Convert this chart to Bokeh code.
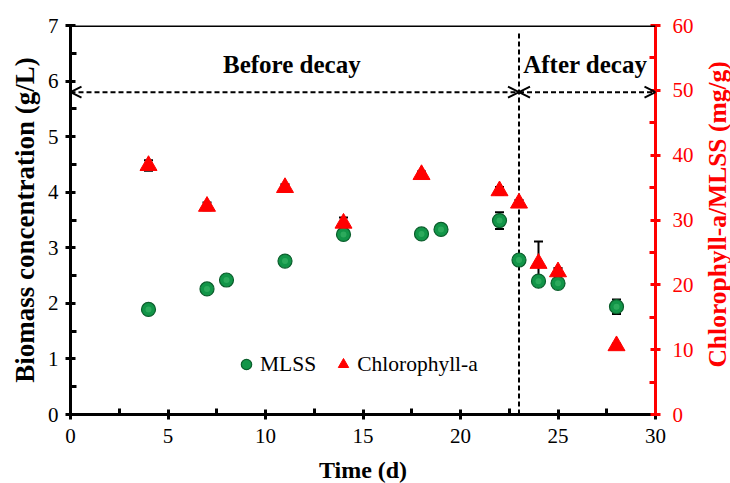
import math
from bokeh.plotting import figure
from bokeh.layouts import row, column
from bokeh.models import (LinearAxis, Range1d, Arrow, OpenHead, Span, Legend, LegendItem,
                          Whisker, TeeHead, ColumnDataSource, Label, FixedTicker)
from bokeh.embed import file_html
from bokeh.resources import INLINE

# ---- data ----
mlss_day = [4, 7, 8, 11, 14, 18, 19, 22, 23, 24, 25, 28]
mlss_val = [1.89, 2.26, 2.42, 2.76, 3.24, 3.25, 3.33, 3.49, 2.78, 2.40, 2.36, 1.94]
mlss_err = [0.03, 0.03, 0.05, 0.03, 0.05, 0.06, 0.03, 0.15, 0.06, 0.07, 0.04, 0.13]

chl_day = [4, 7, 11, 14, 18, 22, 23, 24, 25, 28]
chl_val = [38.4, 32.1, 35.0, 29.5, 37.0, 34.5, 32.6, 23.3, 22.0, 10.6]
chl_err = [0.8, 0.6, 0.5, 0.9, 0.5, 0.6, 0.5, 3.4, 0.6, 0.3]

x_ticks = [0, 5, 10, 15, 20, 25, 30]
y_ticks = [0, 1, 2, 3, 4, 5, 6, 7]
y2_ticks = [0, 10, 20, 30, 40, 50, 60]

X_TITLE = "Time (d)"
Y_TITLE = "Biomass concentration (g/L)"
Y2_TITLE = "Chlorophyll-a/MLSS (mg/g)"

DECAY_DAY = 23
ARROW_Y = 5.8
LINE_TOP = 6.87
PHASES = ["Before decay", "After decay"]
PHASE_X = [11.35, 26.4]
PHASE_Y = 6.3

FONT = "Liberation Serif"
RED = "#ff0000"

# layout sizes (pixels)
MAIN_W, MAIN_H = 700, 452
SIDE_W = 30
BOTTOM_H = 31

p = figure(width=MAIN_W, height=MAIN_H, output_backend="svg", toolbar_location=None,
           x_range=Range1d(0, 30), y_range=Range1d(0, 7),
           min_border_left=70, min_border_right=45, min_border_top=25, min_border_bottom=38)
p.extra_y_ranges = {"chl": Range1d(0, 60)}
p.grid.visible = False
p.outline_line_color = None
p.background_fill_color = "white"

def style_axis(ax, color="black", label_size="25px"):
    ax.axis_line_width = 3
    ax.axis_line_color = color
    ax.major_tick_line_color = color
    ax.minor_tick_line_color = color
    ax.major_tick_line_width = 3
    ax.minor_tick_line_width = 3
    ax.major_tick_in = 5
    ax.major_tick_out = 5
    ax.minor_tick_in = 6
    ax.minor_tick_out = 0
    ax.major_label_text_font = FONT
    ax.major_label_text_font_size = "21px"
    ax.major_label_text_color = color
    ax.axis_label_text_font = FONT
    ax.axis_label_text_font_size = label_size
    ax.axis_label_text_font_style = "bold"
    ax.axis_label_text_color = color

xa = p.xaxis[0]
xa.ticker = FixedTicker(ticks=x_ticks, minor_ticks=[2.5 + 5 * i for i in range(6)])
style_axis(xa)
xa.major_label_standoff = 9

ya = p.yaxis[0]
ya.ticker = FixedTicker(ticks=y_ticks, minor_ticks=[0.5 + i for i in range(7)])
style_axis(ya, label_size="27px")
ya.axis_label = Y_TITLE
ya.major_label_standoff = 7
ya.axis_label_standoff = 5

ya2 = LinearAxis(y_range_name="chl")
ya2.ticker = FixedTicker(ticks=y2_ticks, minor_ticks=[5 + 10 * i for i in range(6)])
style_axis(ya2, RED)
ya2.major_label_standoff = 12
p.add_layout(ya2, "right")

# top border
p.add_layout(Span(location=7, dimension="width", line_color="black", line_width=3))

# decay line and arrows
p.segment(x0=[DECAY_DAY], y0=[0], x1=[DECAY_DAY], y1=[LINE_TOP],
          line_color="black", line_width=2, line_dash="5 3")
for xs, xe in [(0, DECAY_DAY), (DECAY_DAY, 30)]:
    p.add_layout(Arrow(x_start=xs, y_start=ARROW_Y, x_end=xe, y_end=ARROW_Y,
                       line_color="black", line_width=2, line_dash="5 3",
                       start=OpenHead(size=11, line_width=2, line_color="black"),
                       end=OpenHead(size=11, line_width=2, line_color="black")))
for t, x in zip(PHASES, PHASE_X):
    p.add_layout(Label(x=x, y=PHASE_Y, text=t, text_font=FONT, text_font_size="25px",
                       text_font_style="bold", text_color="black",
                       text_align="center", text_baseline="middle"))

# data
ms = ColumnDataSource(dict(x=mlss_day, y=mlss_val, lo=[v - e for v, e in zip(mlss_val, mlss_err)],
                           hi=[v + e for v, e in zip(mlss_val, mlss_err)]))
cs = ColumnDataSource(dict(x=chl_day, y=chl_val, lo=[v - e for v, e in zip(chl_val, chl_err)],
                           hi=[v + e for v, e in zip(chl_val, chl_err)]))

p.add_layout(Whisker(source=ms, base="x", upper="hi", lower="lo", line_color="black", line_width=2,
                     upper_head=TeeHead(size=9, line_width=2), lower_head=TeeHead(size=9, line_width=2)))
p.add_layout(Whisker(source=cs, base="x", upper="hi", lower="lo", y_range_name="chl",
                     line_color="black", line_width=2,
                     upper_head=TeeHead(size=9, line_width=2), lower_head=TeeHead(size=9, line_width=2)))

g1 = p.scatter("x", "y", source=ms, marker="circle", size=14, fill_color="#129548",
               line_color="#0b5e2c", line_width=1.2)
p.scatter("x", "y", source=ms, marker="circle", size=6, fill_color="#37b465",
          line_color=None, fill_alpha=0.7)
g2 = p.scatter("x", "y", source=cs, marker="triangle", size=17, fill_color=RED,
               line_color=RED, y_range_name="chl")

leg = Legend(items=[LegendItem(label="MLSS", renderers=[g1]),
                    LegendItem(label="Chlorophyll-a", renderers=[g2])],
             orientation="horizontal", location=(153, 27),
             label_text_font=FONT, label_text_font_size="21.5px", label_text_color="black",
             background_fill_alpha=0, border_line_alpha=0, spacing=14,
             glyph_width=26, glyph_height=26, label_standoff=1)
p.add_layout(leg, "center")

def strip(w, h):
    f = figure(width=w, height=h, output_backend="svg", toolbar_location=None, title=None,
               x_range=Range1d(0, w), y_range=Range1d(0, h),
               x_axis_location=None, y_axis_location=None,
               min_border_left=0, min_border_right=0, min_border_top=0, min_border_bottom=0)
    f.grid.visible = False
    f.outline_line_color = None
    return f

# right-hand title (reads bottom to top), drawn in a narrow strip
side = strip(SIDE_W, MAIN_H)
side.add_layout(Label(x=16.5, y=MAIN_H - 219.5, text=Y2_TITLE, text_font=FONT,
                      text_font_size="25.5px", text_font_style="bold", text_color=RED,
                      angle=math.pi / 2, text_align="center", text_baseline="middle"))

# bottom title strip
bottom = strip(MAIN_W + SIDE_W, BOTTOM_H)
bottom.add_layout(Label(x=362.5, y=14, text=X_TITLE, text_font=FONT,
                        text_font_size="24px", text_font_style="bold", text_color="black",
                        text_align="center", text_baseline="middle"))

layout = column(row(p, side, spacing=0), bottom, spacing=0)
open("out.html", "w").write(file_html(layout, INLINE))
